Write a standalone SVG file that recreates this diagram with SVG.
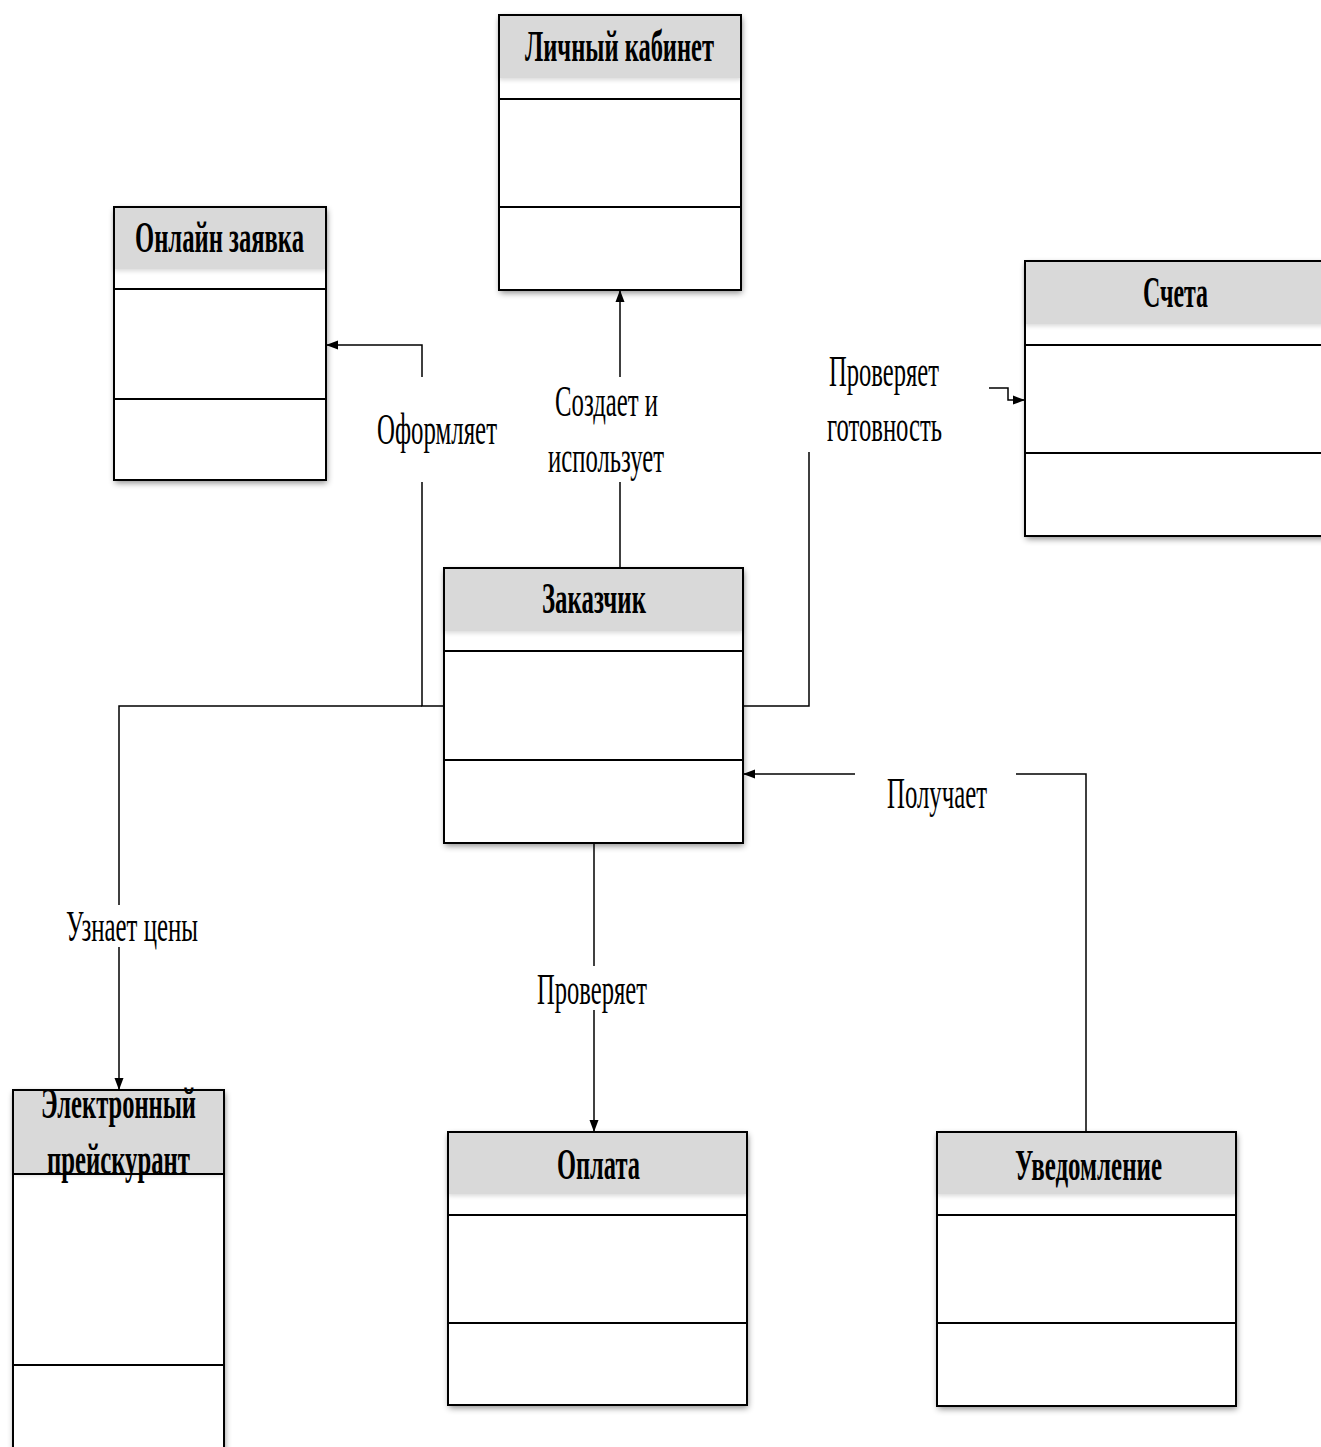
<svg xmlns="http://www.w3.org/2000/svg" width="1321" height="1447" viewBox="0 0 1321 1447">
<style>
.box{fill:#fff;stroke:none;filter:url(#sh)}
.hdr{fill:#d9d9d9;stroke:none;filter:url(#sh2)}
.out{fill:none;stroke:#000;stroke-width:2}
.sep{stroke:#000;stroke-width:2.2}
.ttl{font-family:"Liberation Serif","Times New Roman",serif;font-weight:bold;font-size:44px;fill:#000;text-anchor:start}
.lbl{font-family:"Liberation Serif","Times New Roman",serif;font-size:44px;fill:#000}
.con{fill:none;stroke:#000;stroke-width:1.5}
</style>
<defs>
<filter id="sh" x="-10%" y="-10%" width="125%" height="125%">
<feDropShadow dx="1" dy="3" stdDeviation="3" flood-color="#000" flood-opacity="0.45"/>
</filter>
<filter id="sh2" x="-5%" y="-10%" width="110%" height="130%">
<feDropShadow dx="0" dy="2" stdDeviation="2" flood-color="#000" flood-opacity="0.15"/>
</filter>
<marker id="arr" viewBox="0 0 12 10" refX="12" refY="5" markerWidth="12" markerHeight="10" markerUnits="userSpaceOnUse" orient="auto">
<path d="M0,0.5 L12,5 L0,9.5 Z" fill="#000"/>
</marker>
</defs>
<rect width="1321" height="1447" fill="#fff"/>

<g id="node-lichny-kabinet">
<rect class="box" x="499" y="15" width="242" height="275"/>
<rect class="hdr" x="499" y="15" width="242" height="63"/>
<line class="sep" x1="499" y1="99" x2="741" y2="99"/>
<line class="sep" x1="499" y1="207" x2="741" y2="207"/>
<rect class="out" x="499" y="15" width="242" height="275"/>
<text class="ttl" x="525" y="61" textLength="189" lengthAdjust="spacingAndGlyphs">Личный кабинет</text>
</g>

<g id="node-onlain-zayavka">
<rect class="box" x="114" y="207" width="212" height="273"/>
<rect class="hdr" x="114" y="207" width="212" height="62"/>
<line class="sep" x1="114" y1="289" x2="326" y2="289"/>
<line class="sep" x1="114" y1="399" x2="326" y2="399"/>
<rect class="out" x="114" y="207" width="212" height="273"/>
<text class="ttl" x="135" y="252" textLength="169" lengthAdjust="spacingAndGlyphs">Онлайн заявка</text>
</g>

<g id="node-scheta">
<rect class="box" x="1025" y="261" width="310" height="275"/>
<rect class="hdr" x="1025" y="261" width="310" height="63"/>
<line class="sep" x1="1025" y1="345" x2="1335" y2="345"/>
<line class="sep" x1="1025" y1="453" x2="1335" y2="453"/>
<rect class="out" x="1025" y="261" width="310" height="275"/>
<text class="ttl" x="1143" y="307" textLength="65" lengthAdjust="spacingAndGlyphs">Счета</text>
</g>

<g id="node-zakazchik">
<rect class="box" x="444" y="568" width="299" height="275"/>
<rect class="hdr" x="444" y="568" width="299" height="63"/>
<line class="sep" x1="444" y1="651" x2="743" y2="651"/>
<line class="sep" x1="444" y1="760" x2="743" y2="760"/>
<rect class="out" x="444" y="568" width="299" height="275"/>
<text class="ttl" x="542" y="613" textLength="104" lengthAdjust="spacingAndGlyphs">Заказчик</text>
</g>

<g id="node-preiskurant">
<rect class="box" x="13" y="1090" width="211" height="400"/>
<rect class="hdr" x="13" y="1090" width="211" height="83"/>
<line class="sep" x1="13" y1="1174" x2="224" y2="1174"/>
<line class="sep" x1="13" y1="1365" x2="224" y2="1365"/>
<rect class="out" x="13" y="1090" width="211" height="400"/>
<text class="ttl" x="41" y="1118" textLength="155" lengthAdjust="spacingAndGlyphs">Электронный</text>
<text class="ttl" x="47" y="1174" textLength="143" lengthAdjust="spacingAndGlyphs">прейскурант</text>
</g>

<g id="node-oplata">
<rect class="box" x="448" y="1132" width="299" height="273"/>
<rect class="hdr" x="448" y="1132" width="299" height="62"/>
<line class="sep" x1="448" y1="1215" x2="747" y2="1215"/>
<line class="sep" x1="448" y1="1323" x2="747" y2="1323"/>
<rect class="out" x="448" y="1132" width="299" height="273"/>
<text class="ttl" x="557" y="1179" textLength="83" lengthAdjust="spacingAndGlyphs">Оплата</text>
</g>

<g id="node-uvedomlenie">
<rect class="box" x="937" y="1132" width="299" height="274"/>
<rect class="hdr" x="937" y="1132" width="299" height="62"/>
<line class="sep" x1="937" y1="1215" x2="1236" y2="1215"/>
<line class="sep" x1="937" y1="1323" x2="1236" y2="1323"/>
<rect class="out" x="937" y="1132" width="299" height="274"/>
<text class="ttl" x="1015" y="1180" textLength="147" lengthAdjust="spacingAndGlyphs">Уведомление</text>
</g>

<g id="connectors">
<!-- Создает и использует -->
<path class="con" d="M620,568 L620,482"/>
<path class="con" d="M620,377 L620,290" marker-end="url(#arr)"/>
<text class="lbl" x="555" y="416" textLength="103" lengthAdjust="spacingAndGlyphs">Создает и</text>
<text class="lbl" x="548" y="472" textLength="116" lengthAdjust="spacingAndGlyphs">использует</text>

<!-- Оформляет -->
<path class="con" d="M444,706 L422,706 L422,482"/>
<path class="con" d="M422,377 L422,345 L326,345" marker-end="url(#arr)"/>
<text class="lbl" x="377" y="444" textLength="120" lengthAdjust="spacingAndGlyphs">Оформляет</text>

<!-- Узнает цены -->
<path class="con" d="M422,706 L119,706 L119,905"/>
<path class="con" d="M119,947 L119,1090" marker-end="url(#arr)"/>
<text class="lbl" x="66" y="941" textLength="132" lengthAdjust="spacingAndGlyphs">Узнает цены</text>

<!-- Проверяет готовность -->
<path class="con" d="M743,706 L809,706 L809,452"/>
<path class="con" d="M989,388 L1008,388 L1008,400 L1025,400" marker-end="url(#arr)"/>
<text class="lbl" x="829" y="386" textLength="110" lengthAdjust="spacingAndGlyphs">Проверяет</text>
<text class="lbl" x="827" y="441" textLength="115" lengthAdjust="spacingAndGlyphs">готовность</text>

<!-- Проверяет -->
<path class="con" d="M594,843 L594,966"/>
<path class="con" d="M594,1010 L594,1132" marker-end="url(#arr)"/>
<text class="lbl" x="537" y="1004" textLength="110" lengthAdjust="spacingAndGlyphs">Проверяет</text>

<!-- Получает -->
<path class="con" d="M1086,1132 L1086,774 L1016,774"/>
<path class="con" d="M855,774 L743,774" marker-end="url(#arr)"/>
<text class="lbl" x="887" y="808" textLength="100" lengthAdjust="spacingAndGlyphs">Получает</text>
</g>
</svg>
